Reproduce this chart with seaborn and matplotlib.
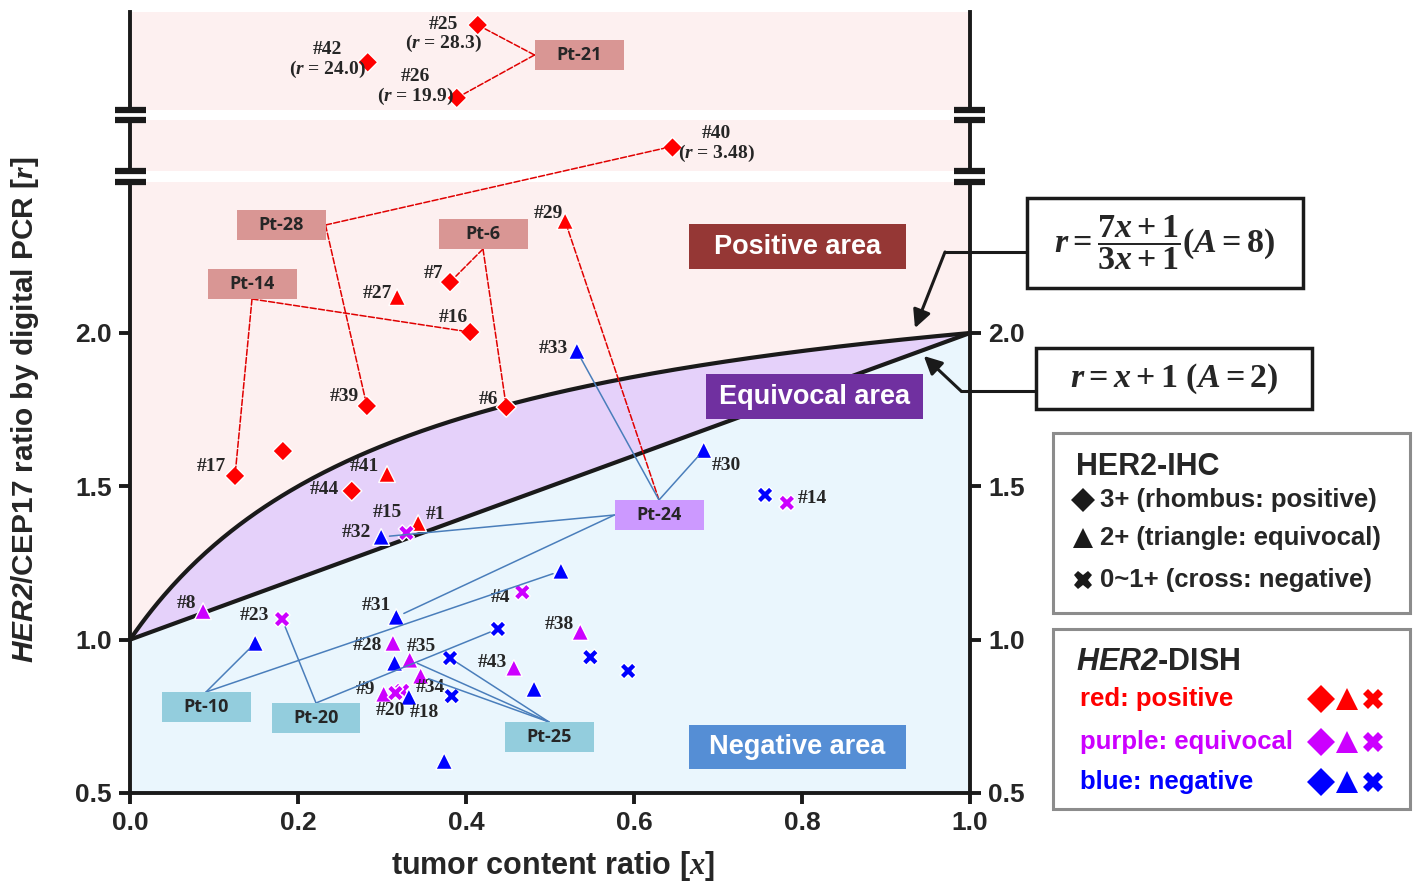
import numpy as np
import pandas as pd
import matplotlib
matplotlib.use("Agg")
import matplotlib.pyplot as plt
import seaborn as sns
from matplotlib.patches import Rectangle, ConnectionPatch
from matplotlib.lines import Line2D

W, H = 1413, 883

# samples (u* = unlabeled points)
sample = ['#17', 'u1', '#39', '#44', '#41', '#1', '#27', '#7', '#16', '#6', '#29', '#40', '#42', '#25', '#26',
          '#8', '#23', '#15', '#4', '#28', '#35', '#34', '#9', '#20', 'u2', '#43', '#38', '#14',
          '#33', '#30', 'u3', '#32', 'u4', '#31', 'u5', 'u6', 'u7', 'u8', 'u9', 'u10', 'u11', '#18', 'u12', 'u13']
tumor_x = [0.125, 0.182, 0.282, 0.264, 0.306, 0.343, 0.318, 0.381, 0.405, 0.448, 0.518, 0.645, 0.283, 0.414, 0.389,
           0.087, 0.181, 0.329, 0.467, 0.313, 0.333, 0.346, 0.302, 0.324, 0.316, 0.457, 0.536, 0.782,
           0.532, 0.683, 0.756, 0.299, 0.513, 0.317, 0.438, 0.149, 0.315, 0.381, 0.548, 0.593, 0.481, 0.332, 0.383, 0.374]
ratio_r = [1.534, 1.615, 1.762, 1.485, 1.540, 1.380, 2.117, 2.166, 2.003, 1.758, 2.365, 3.48, 24.0, 28.3, 19.9,
           1.093, 1.067, 1.348, 1.155, 0.989, 0.934, 0.882, 0.823, 0.833, 0.826, 0.908, 1.025, 1.446,
           1.941, 1.618, 1.472, 1.335, 1.224, 1.074, 1.035, 0.989, 0.924, 0.940, 0.943, 0.898, 0.839, 0.813, 0.816, 0.604]
ihc = ['3+', '3+', '3+', '3+', '2+', '2+', '2+', '3+', '3+', '3+', '2+', '3+', '3+', '3+', '3+',
       '2+', '0~1+', '0~1+', '0~1+', '2+', '2+', '2+', '2+', '0~1+', '0~1+', '2+', '2+', '0~1+',
       '2+', '2+', '0~1+', '2+', '2+', '2+', '0~1+', '2+', '2+', '0~1+', '0~1+', '0~1+', '2+', '2+', '0~1+', '2+']
dish = ['positive'] * 15 + ['equivocal'] * 13 + ['negative'] * 16

# patients -> samples
pt_names = ['Pt-21', 'Pt-28', 'Pt-6', 'Pt-14', 'Pt-24', 'Pt-10', 'Pt-20', 'Pt-25']
pt_links = [('Pt-21', '#25', 'left'), ('Pt-21', '#26', 'left'),
            ('Pt-28', '#40', 'right'), ('Pt-28', '#39', 'right'),
            ('Pt-6', '#7', 'bottom'), ('Pt-6', '#6', 'bottom'),
            ('Pt-14', '#16', 'bottom'), ('Pt-14', '#17', 'bottom'),
            ('Pt-24', '#29', 'top'), ('Pt-24', '#33', 'top'), ('Pt-24', '#30', 'top'),
            ('Pt-24', '#32', 'left'), ('Pt-24', '#31', 'left'),
            ('Pt-10', 'u6', 'top'), ('Pt-10', 'u4', 'top'),
            ('Pt-20', '#23', 'top'), ('Pt-20', 'u5', 'top'),
            ('Pt-25', 'u8', 'top'), ('Pt-25', '#35', 'top'), ('Pt-25', '#34', 'top')]

ihc_legend = ['3+ (rhombus: positive)', '2+ (triangle: equivocal)', '0~1+ (cross: negative)']
dish_legend = ['red: positive', 'purple: equivocal', 'blue: negative']

# layout (figure pixels, y from top)
pt_box = {'Pt-21': (579, 55), 'Pt-28': (281, 225), 'Pt-6': (483, 234), 'Pt-14': (252, 284),
          'Pt-24': (659, 515), 'Pt-10': (206, 707), 'Pt-20': (316, 718), 'Pt-25': (549, 737)}
pt_color = {'Pt-21': '#D99694', 'Pt-28': '#D99694', 'Pt-6': '#D99694', 'Pt-14': '#D99694',
            'Pt-24': '#CC99FF', 'Pt-10': '#93CDDD', 'Pt-20': '#93CDDD', 'Pt-25': '#93CDDD'}
label_off = {'#17': (-24, 9), '#39': (-23, 9), '#27': (-20, 4), '#7': (-17, 9), '#16': (-17, 15),
             '#6': (-18, 8), '#29': (-17, 8), '#33': (-24, 3), '#41': (-23, 8), '#44': (-27, 1),
             '#1': (17, 9), '#15': (-19, 20), '#32': (-25, 4), '#8': (-17, 8), '#23': (-28, 4),
             '#31': (-20, 11), '#4': (-22, -5), '#28': (-25, -2), '#35': (12, 13), '#34': (10, -12),
             '#9': (-18, 4), '#20': (-12, -20), '#18': (15, -15), '#43': (-22, 5), '#38': (-21, 7),
             '#30': (23, -15), '#14': (25, 4), '#40': (45, 2), '#42': (-40, 2), '#25': (-34, -10),
             '#26': (-41, 10)}

sns.set_theme(style="white")
plt.rcParams['font.family'] = ['Liberation Sans', 'DejaVu Sans']
plt.rcParams['font.weight'] = 'bold'
plt.rcParams['mathtext.fontset'] = 'custom'
plt.rcParams['mathtext.it'] = 'Liberation Serif:italic:bold'
plt.rcParams['mathtext.rm'] = 'Liberation Serif:bold'
plt.rcParams['mathtext.bf'] = 'Liberation Serif:bold'
plt.rcParams['mathtext.sf'] = 'Liberation Sans:italic:bold'

df = pd.DataFrame({'sample': sample, 'x': tumor_x, 'r': ratio_r, 'ihc': ihc, 'dish': dish})
df['panel'] = np.select([df.r > 10, df.r > 3], ['top', 'mid'], 'main')

pal = {'positive': '#FF0000', 'equivocal': '#CC00FF', 'negative': '#0000FF'}
mk = {'3+': 'D', '2+': '^', '0~1+': 'X'}
sz = {'3+': 105, '2+': 145, '0~1+': 135}

def fx(px):
    return px / W

def fy(py):
    return 1 - py / H

fig = plt.figure(figsize=(W / 100, H / 100), dpi=100)
ax_main = fig.add_axes([fx(130), fy(793), 840 / W, (793 - 182) / H])
ax_mid = fig.add_axes([fx(130), fy(171), 840 / W, (171 - 120) / H])
ax_top = fig.add_axes([fx(130), fy(110), 840 / W, (110 - 12) / H])
panels = {'main': ax_main, 'mid': ax_mid, 'top': ax_top}
pink = '#FDF0F0'

# region fills
xs = np.linspace(0, 1, 300)
upper = (7 * xs + 1) / (3 * xs + 1)
lower = xs + 1
ax_main.fill_between(xs, 0.5, lower, color='#EAF6FD', lw=0, zorder=0)
ax_main.fill_between(xs, lower, upper, color='#E5D1FA', lw=0, zorder=0)
ax_main.plot(xs, upper, color='k', lw=3, zorder=2)
ax_main.plot(xs, lower, color='k', lw=3, zorder=2)

for name, ax in panels.items():
    sub = df[df.panel == name]
    sns.scatterplot(data=sub, x='x', y='r', hue='dish', style='ihc', size='ihc',
                    palette=pal, markers=mk, sizes=sz,
                    hue_order=list(pal), style_order=list(mk), size_order=list(sz),
                    edgecolor='white', linewidth=1, legend=False, ax=ax, zorder=4)
    ax.set_facecolor(pink)
    ax.set_xlim(0, 1)
    ax.set_xlabel('')
    ax.set_ylabel('')
    for s in ['left', 'right', 'bottom', 'top']:
        ax.spines[s].set_color('k')
        ax.spines[s].set_linewidth(2.8)
    ax.spines['top'].set_visible(False)
    for _, row in sub.iterrows():
        if not row['sample'].startswith('#'):
            continue
        txt = row['sample']
        if row.r > 3:
            val = f"{row.r:.1f}" if row.r >= 10 else f"{row.r:.2f}"
            txt += f"\n($r$ = {val})"
        ax.annotate(txt, (row.x, row.r), xytext=label_off[row['sample']], textcoords='offset pixels',
                    ha='center', va='center', family='Liberation Serif', size=14,
                    linespacing=1.05, zorder=6, annotation_clip=False)

ax_main.set_ylim(0.5, 2.0 + 151 / 306.67)
ax_mid.set_ylim(3.0, 4.0)
ax_top.set_ylim(18.5, 29.8)

ax_main.set_xticks(np.arange(0, 1.01, 0.2))
ax_main.set_xticklabels([f"{t:.1f}" for t in np.arange(0, 1.01, 0.2)])
ax_main.set_yticks([0.5, 1.0, 1.5, 2.0])
ax_main.set_yticklabels(['0.5', '1.0', '1.5', '2.0'])
ax_main.tick_params(axis='both', direction='out', length=8, width=2.8, labelsize=19, pad=5,
                    left=True, right=True, bottom=True, labelright=True, color='k')
for ax in (ax_mid, ax_top):
    ax.set_xticks([])
    ax.set_yticks([])
    ax.spines['bottom'].set_visible(False)

# axis break marks
d = 15.5 / 840
for ax, ys in ((ax_main, [1]), (ax_mid, [0, 1]), (ax_top, [0])):
    for yb in ys:
        for xb in (0, 1):
            ax.plot([xb - d, xb + d], [yb, yb], transform=ax.transAxes, color='k', lw=4.5,
                    solid_capstyle='butt', clip_on=False, zorder=10)

# patient boxes and links
for name in pt_names:
    cx, cy = pt_box[name]
    fig.add_artist(Rectangle((fx(cx - 44.5), fy(cy + 15)), 89 / W, 30 / H, transform=fig.transFigure,
                             facecolor=pt_color[name], edgecolor='none', zorder=5))
    fig.text(fx(cx), fy(cy), name, ha='center', va='center', family=['Open Sans', 'DejaVu Sans'],
             size=13, weight='bold', zorder=6)

for pt, s, side in pt_links:
    cx, cy = pt_box[pt]
    ax_px = {'left': (cx - 44.5, cy), 'right': (cx + 44.5, cy),
             'top': (cx, cy - 15), 'bottom': (cx, cy + 15)}[side]
    row = df[df['sample'] == s].iloc[0]
    pos = row.dish == 'positive'
    cp = ConnectionPatch(xyA=(ax_px[0], H - ax_px[1]), coordsA='figure pixels',
                         xyB=(row.x, row.r), coordsB=panels[row.panel].transData,
                         color='#E00000' if pos else '#4A7EBB', lw=1.1,
                         linestyle=(0, (4, 1.5)) if pos else '-', shrinkB=6, zorder=3)
    fig.add_artist(cp)

# area labels
areas = [('Positive area', (689, 224, 906, 269), '#953735'),
         ('Equivocal area', (706, 374, 923, 419), '#7030A0'),
         ('Negative area', (689, 725, 906, 769), '#558ED5')]
for txt, (x0, y0, x1, y1), col in areas:
    fig.add_artist(Rectangle((fx(x0), fy(y1)), (x1 - x0) / W, (y1 - y0) / H, transform=fig.transFigure,
                             facecolor=col, edgecolor='none', zorder=5))
    fig.text(fx((x0 + x1) / 2), fy((y0 + y1) / 2), txt, ha='center', va='center', color='white',
             size=19.5, weight='bold', zorder=6)

# equation call-outs
for (x0, y0, x1, y1), eq in (((1027, 198, 1303, 288), r'$r = \dfrac{7x + 1}{3x + 1}(A = 8)$'),
                              ((1036, 348, 1312, 409), r'$r = x + 1\ (A = 2)$')):
    fig.add_artist(Rectangle((fx(x0), fy(y1)), (x1 - x0) / W, (y1 - y0) / H, transform=fig.transFigure,
                             facecolor='white', edgecolor='k', lw=2.5, zorder=5))
    fig.text(fx((x0 + x1) / 2), fy((y0 + y1) / 2), eq, ha='center', va='center', size=24.5, zorder=6)

for (xa, xb, yl), tip in (((1027, 945, 252), (0.9345, 2.016)), ((1036, 961, 391), (0.945, 1.925))):
    fig.add_artist(Line2D([fx(xa), fx(xb)], [fy(yl), fy(yl)], color='k', lw=2.2, transform=fig.transFigure))
    ax_main.annotate('', xy=tip, xycoords='data', xytext=(xb, H - yl), textcoords='figure pixels',
                     arrowprops=dict(arrowstyle='-|>,head_length=0.9,head_width=0.45', color='k', lw=2.2,
                                     shrinkA=0, shrinkB=0), annotation_clip=False)

# legends
def legend_box(y0, y1):
    fig.add_artist(Rectangle((fx(1053), fy(y1)), (1410 - 1053) / W, (y1 - y0) / H, transform=fig.transFigure,
                             facecolor='white', edgecolor='#8C8C8C', lw=2.2, zorder=5))

def mark(x, y, m, c, ms):
    fig.add_artist(Line2D([fx(x)], [fy(y)], marker=m, color=c, markersize=ms, linestyle='none',
                          markeredgewidth=0, transform=fig.transFigure, zorder=6))

legend_box(433, 613)
fig.text(fx(1076), fy(467), 'HER2-IHC', ha='left', va='center', size=22, zorder=6)
for txt, m, y in zip(ihc_legend, list(mk.values()), [500, 538, 580]):
    mark(1083, y, m, 'k', {'D': 12, '^': 14, 'X': 13}[m])
    fig.text(fx(1100), fy(y), txt, ha='left', va='center', size=18.5, zorder=6)

legend_box(629, 809)
fig.text(fx(1076), fy(662), r'$\mathsf{HER2}$-DISH', ha='left', va='center', size=22, zorder=6)
for txt, col, y in zip(dish_legend, list(pal.values()), [699, 742, 782]):
    fig.text(fx(1080), fy(y), txt, ha='left', va='center', size=18.5, color=col, zorder=6)
    for m, xm in zip(mk.values(), [1321, 1347, 1373]):
        mark(xm, y, m, col, {'D': 14, '^': 16, 'X': 15}[m])

fig.text(fx(25), fy(410), r'$\mathsf{HER2}$/CEP17 ratio by digital PCR [$r$]', rotation=90,
         ha='center', va='center', size=21.5)
fig.text(fx(553), fy(866), 'tumor content ratio [$x$]', ha='center', va='center', size=22)

fig.savefig('out.png', dpi=100)
